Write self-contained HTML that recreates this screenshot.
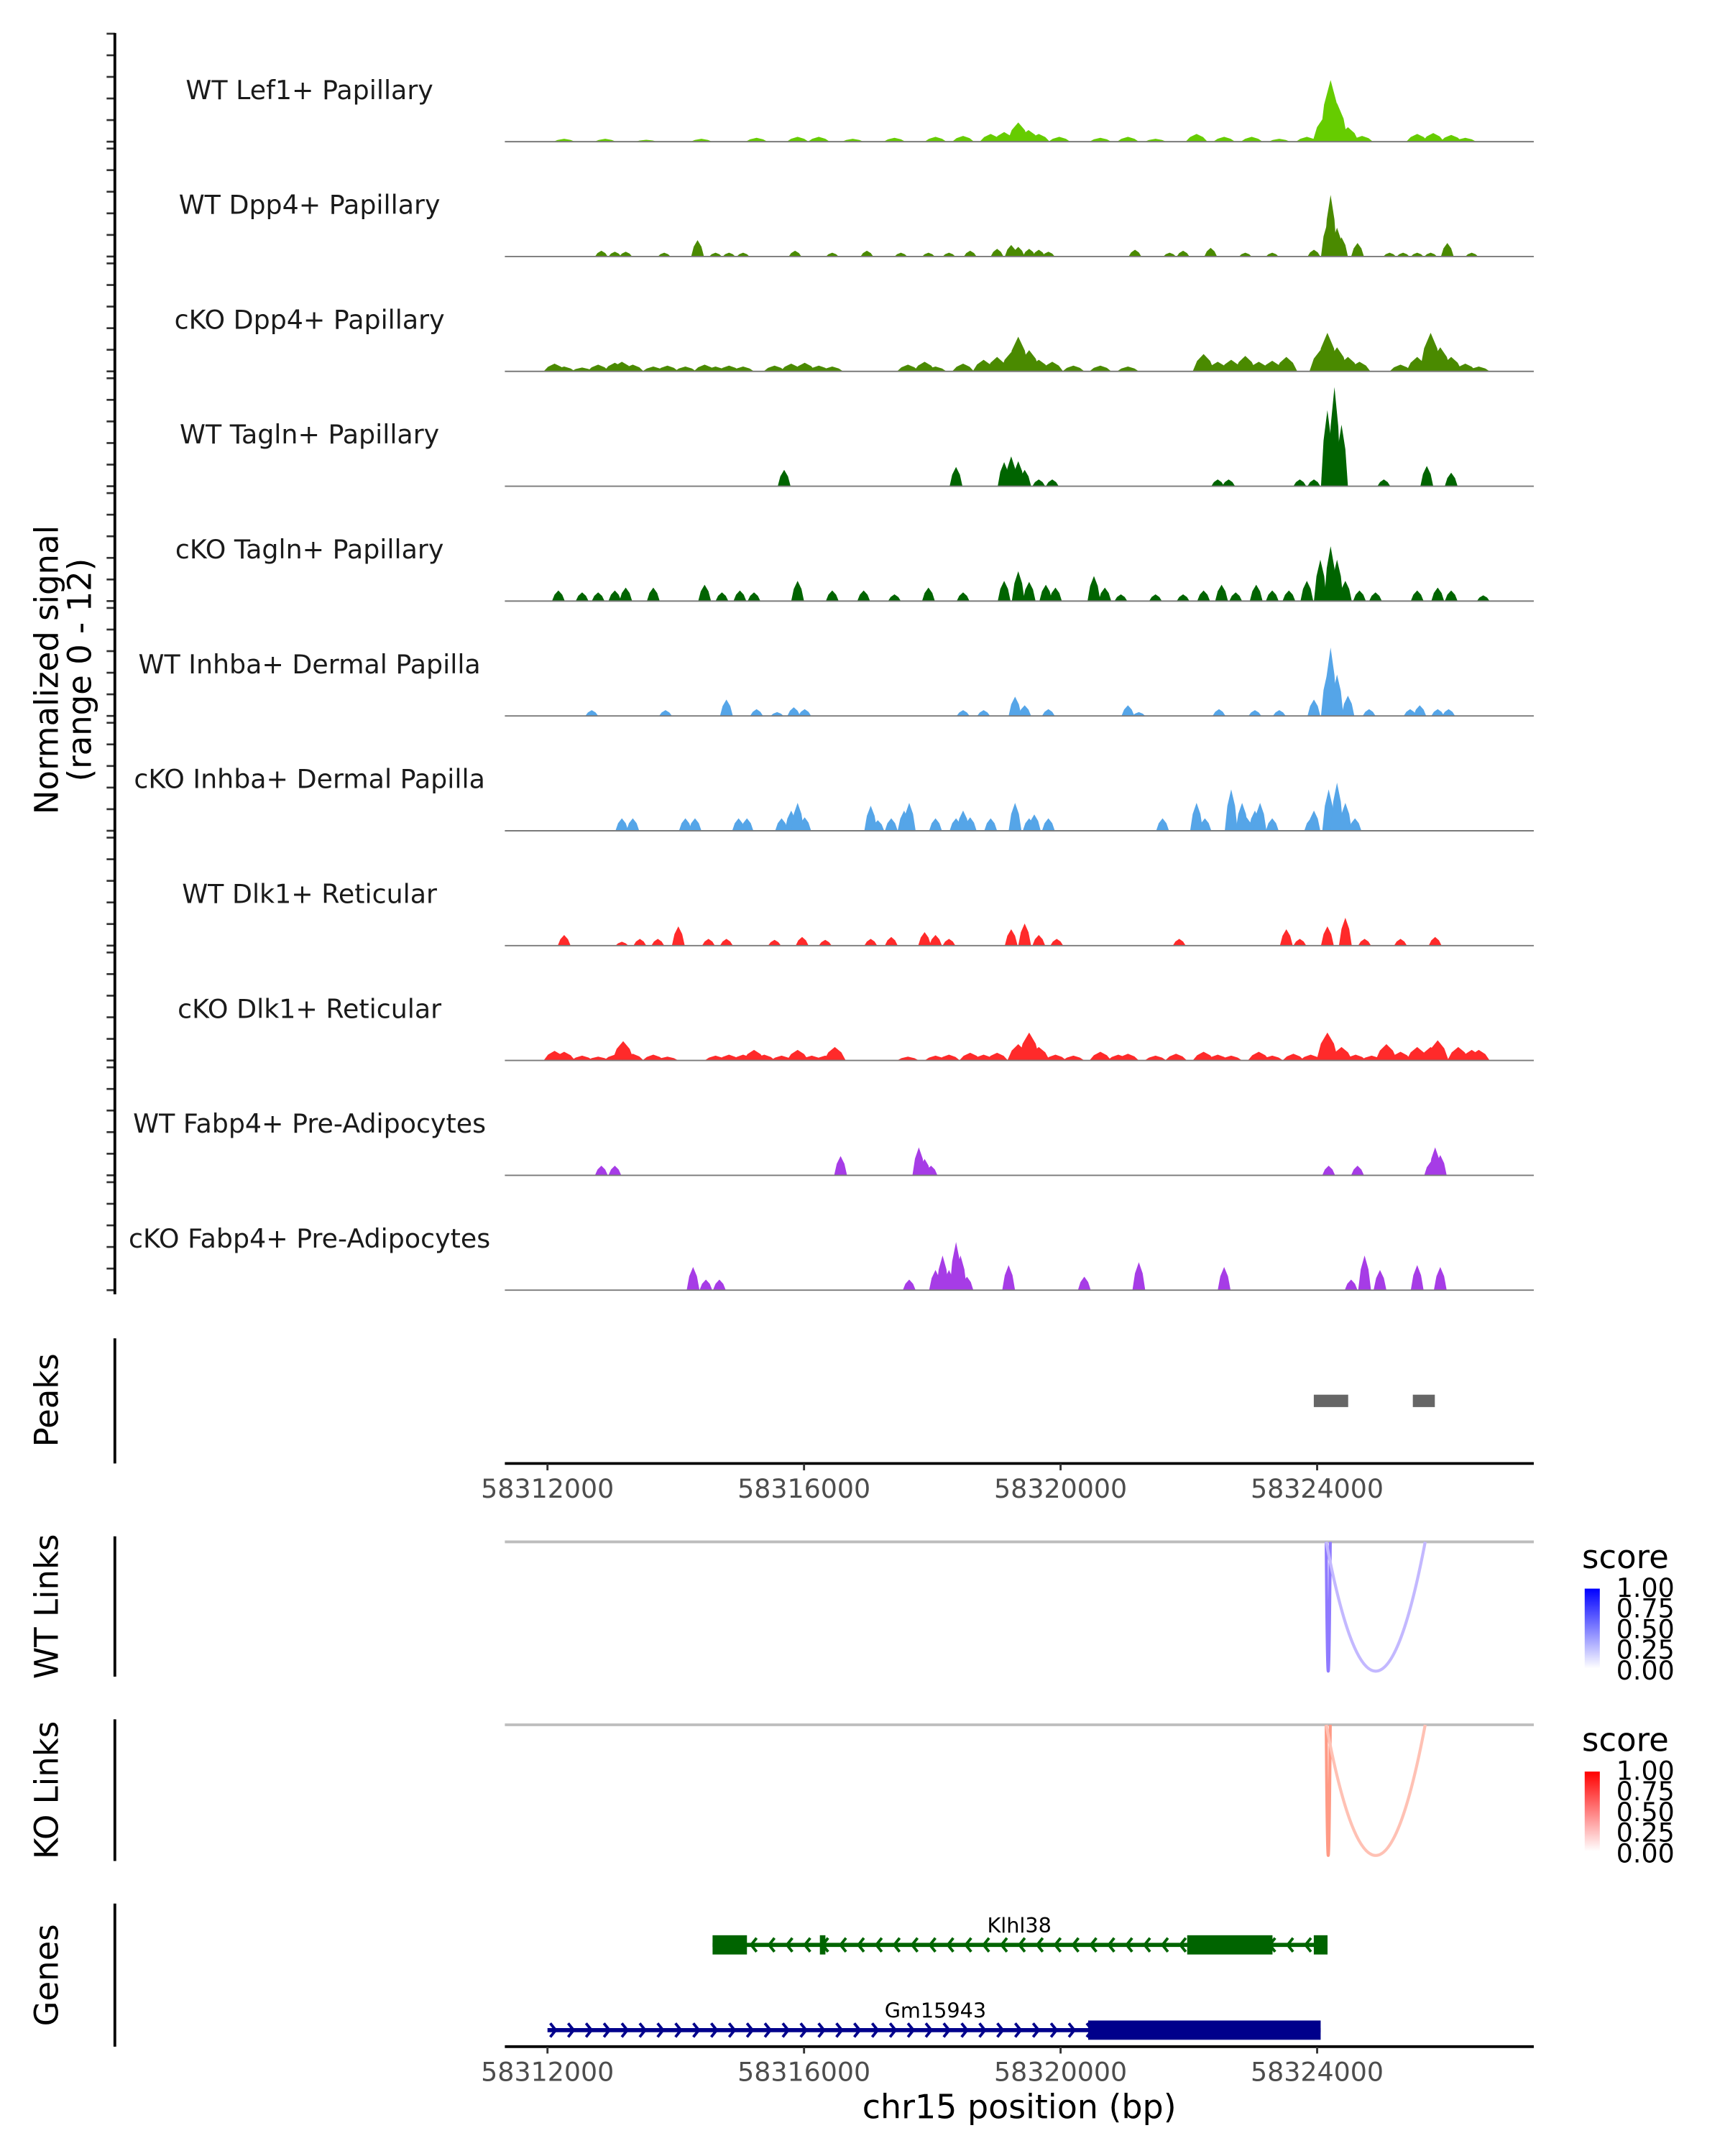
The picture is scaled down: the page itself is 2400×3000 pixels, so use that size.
<!DOCTYPE html>
<html><head><meta charset="utf-8"><style>
html,body{margin:0;padding:0;background:#fff}
svg{display:block}
text{font-family:"DejaVu Sans","Liberation Sans",sans-serif}
</style></head><body>
<svg id="chart" xmlns="http://www.w3.org/2000/svg" width="2400" height="3000" viewBox="0 0 1254 1567.5">
<defs>
<linearGradient id="gBlue" x1="0" y1="1" x2="0" y2="0"><stop offset="0" stop-color="#ffffff"/><stop offset="1" stop-color="#0000ff"/></linearGradient>
<linearGradient id="gRed" x1="0" y1="1" x2="0" y2="0"><stop offset="0" stop-color="#ffffff"/><stop offset="1" stop-color="#ff0000"/></linearGradient>
</defs>
<g id="tracks"></g>
<g id="axes"></g>
</svg>
<script>
// ---- data (positions in kb relative to region origin 58312000; signal 0-12) ----
const ORIGIN = 58312000;
const trackNames = ["WT Lef1+ Papillary","WT Dpp4+ Papillary","cKO Dpp4+ Papillary","WT Tagln+ Papillary","cKO Tagln+ Papillary","WT Inhba+ Dermal Papilla","cKO Inhba+ Dermal Papilla","WT Dlk1+ Reticular","cKO Dlk1+ Reticular","WT Fabp4+ Pre-Adipocytes","cKO Fabp4+ Pre-Adipocytes"];
const trackColors = ["#66cc00","#4a8a00","#4a8a00","#006400","#006400","#55a5e8","#55a5e8","#ff2a2a","#ff2a2a","#a63ce6","#a63ce6"];
const lef1WT = [[0.26,0.3],[0.9,0.3],[1.54,0.2],[2.4,0.3],[3.26,0.4],[3.9,0.5],[4.23,0.5],[4.76,0.3],[5.41,0.4],[6.05,0.5],[6.48,0.6],[6.91,0.8],[7.12,1.0],[7.34,2.0],[7.5,1.2],[7.66,0.8],[7.98,0.5],[8.62,0.4],[9.05,0.5],[9.48,0.3],[10.12,0.8],[10.55,0.5],[10.98,0.5],[11.41,0.3],[11.84,0.5],[12.1,2.5],[12.21,6.4],[12.31,4.0],[12.48,1.5],[12.7,0.6],[13.56,0.8],[13.81,0.9],[14.09,0.7],[14.31,0.4]];
const dpp4WT = [[0.84,0.6],[1.05,0.5],[1.22,0.5],[1.82,0.4],[2.34,1.7],[2.62,0.4],[2.83,0.4],[3.05,0.4],[3.86,0.6],[4.44,0.4],[4.98,0.6],[5.51,0.4],[5.94,0.4],[6.26,0.4],[6.59,0.6],[7.01,0.8],[7.23,1.2],[7.34,1.0],[7.51,0.8],[7.66,0.7],[7.81,0.5],[9.16,0.7],[9.7,0.4],[9.91,0.6],[10.34,0.9],[10.88,0.4],[11.3,0.4],[11.95,0.7],[12.16,3.5],[12.21,6.4],[12.31,3.0],[12.38,2.0],[12.63,1.4],[13.13,0.4],[13.34,0.4],[13.56,0.4],[13.77,0.4],[14.03,1.4],[14.41,0.4]];
const dpp4KO = [[0.11,0.8],[0.26,0.5],[0.54,0.4],[0.79,0.7],[1.05,0.9],[1.16,1.0],[1.33,0.7],[1.65,0.5],[1.87,0.6],[2.15,0.5],[2.45,0.7],[2.62,0.5],[2.83,0.6],[3.05,0.5],[3.54,0.6],[3.8,0.8],[4.01,0.9],[4.23,0.6],[4.44,0.5],[5.62,0.7],[5.88,1.0],[6.05,0.5],[6.48,0.8],[6.8,1.2],[7.01,1.5],[7.23,2.0],[7.34,3.6],[7.51,2.2],[7.66,1.2],[7.87,1.0],[8.2,0.6],[8.62,0.6],[9.05,0.5],[10.23,1.8],[10.45,1.0],[10.66,1.2],[10.88,1.6],[11.09,1.0],[11.3,1.1],[11.52,1.5],[12.05,2.2],[12.16,4.0],[12.31,2.5],[12.48,1.5],[12.66,1.0],[13.3,0.7],[13.56,1.5],[13.77,4.0],[13.92,2.5],[14.09,1.5],[14.31,0.8],[14.52,0.5]];
const taglnWT = [[3.69,1.7],[6.37,2.0],[7.12,2.5],[7.23,3.1],[7.34,2.6],[7.44,1.7],[7.66,0.7],[7.87,0.7],[10.45,0.7],[10.62,0.7],[11.73,0.7],[11.95,0.7],[12.16,7.9],[12.27,10.3],[12.38,6.4],[13.04,0.7],[13.71,2.1],[14.09,1.4]];
const taglnKO = [[0.17,1.1],[0.54,0.9],[0.79,0.9],[1.05,1.1],[1.22,1.4],[1.65,1.4],[2.45,1.7],[2.72,0.9],[3.0,1.1],[3.22,0.9],[3.9,2.1],[4.44,1.1],[4.93,1.1],[5.41,0.7],[5.94,1.4],[6.48,0.9],[7.12,2.1],[7.34,3.1],[7.51,2.0],[7.77,1.7],[7.92,1.4],[8.52,2.6],[8.69,1.4],[8.94,0.7],[9.48,0.7],[9.91,0.7],[10.23,1.1],[10.51,1.7],[10.73,0.9],[11.05,1.7],[11.3,1.1],[11.56,1.1],[11.84,2.1],[12.05,4.3],[12.21,5.7],[12.31,4.3],[12.44,2.1],[12.66,1.1],[12.91,0.9],[13.56,1.1],[13.88,1.4],[14.09,1.1],[14.59,0.6]];
const inhbaWT = [[0.69,0.6],[1.84,0.6],[2.79,1.7],[3.26,0.7],[3.58,0.4],[3.84,0.9],[4.01,0.7],[6.48,0.6],[6.8,0.6],[7.29,2.0],[7.44,1.1],[7.81,0.7],[9.05,1.1],[9.22,0.4],[10.47,0.7],[11.03,0.6],[11.41,0.6],[11.95,1.7],[12.16,4.5],[12.21,7.1],[12.31,4.3],[12.48,2.1],[12.81,0.7],[13.45,0.7],[13.6,1.1],[13.88,0.7],[14.05,0.7]];
const inhbaKO = [[1.16,1.3],[1.33,1.3],[2.15,1.3],[2.3,1.3],[2.98,1.3],[3.11,1.3],[3.65,1.3],[3.8,2.1],[3.9,2.9],[4.01,1.4],[5.04,2.6],[5.15,1.1],[5.36,1.3],[5.56,2.1],[5.64,2.9],[6.05,1.3],[6.37,1.3],[6.48,2.1],[6.59,1.4],[6.91,1.3],[7.29,2.9],[7.51,1.3],[7.59,1.7],[7.81,1.3],[9.59,1.3],[10.12,2.9],[10.25,1.3],[10.66,4.3],[10.83,2.9],[10.9,1.4],[11.03,2.1],[11.11,2.9],[11.3,1.3],[11.9,1.3],[11.95,2.1],[12.18,4.3],[12.31,5.0],[12.44,2.9],[12.59,1.3]];
const dlk1WT = [[0.26,1.1],[1.16,0.4],[1.44,0.7],[1.72,0.7],[2.04,2.0],[2.51,0.7],[2.79,0.7],[3.54,0.6],[3.97,0.9],[4.33,0.6],[5.04,0.7],[5.36,0.9],[5.88,1.4],[6.05,1.1],[6.26,0.7],[7.23,1.7],[7.44,2.3],[7.66,1.1],[7.94,0.7],[9.85,0.7],[11.52,1.7],[11.73,0.7],[12.16,2.0],[12.44,2.9],[12.74,0.7],[13.3,0.7],[13.84,0.9]];
const dlk1KO = [[0.11,1.0],[0.26,0.9],[0.54,0.5],[0.79,0.4],[1.05,0.6],[1.18,2.0],[1.33,0.7],[1.65,0.6],[1.87,0.4],[2.62,0.5],[2.83,0.6],[3.05,0.6],[3.22,1.1],[3.38,0.6],[3.65,0.5],[3.9,1.1],[4.12,0.5],[4.33,0.5],[4.48,1.4],[5.62,0.4],[6.05,0.5],[6.26,0.6],[6.59,0.8],[6.8,0.6],[7.01,0.8],[7.34,1.7],[7.51,2.9],[7.66,1.4],[7.92,0.6],[8.2,0.5],[8.62,0.9],[8.9,0.6],[9.05,0.7],[9.48,0.5],[9.8,0.7],[10.23,0.9],[10.45,0.6],[10.66,0.5],[11.09,0.9],[11.3,0.5],[11.63,0.7],[11.9,0.6],[12.16,2.9],[12.38,1.4],[12.6,0.6],[12.85,0.5],[13.08,1.7],[13.3,0.9],[13.56,1.4],[13.77,1.4],[13.88,2.1],[14.2,1.4],[14.41,1.1],[14.52,1.1]];
const fabp4WT = [[0.84,1.0],[1.05,1.0],[4.57,2.0],[5.79,2.9],[5.88,1.7],[5.98,1.0],[12.18,1.0],[12.63,1.0],[13.77,1.4],[13.84,2.9],[13.92,2.1]];
const fabp4KO = [[2.27,2.4],[2.47,1.1],[2.68,1.1],[5.64,1.1],[6.05,2.1],[6.16,3.6],[6.26,2.1],[6.37,5.0],[6.44,3.6],[6.54,1.4],[7.19,2.6],[8.37,1.4],[9.22,2.9],[10.55,2.4],[12.53,1.1],[12.74,3.6],[12.98,2.1],[13.56,2.6],[13.92,2.4]];
const trackData = [lef1WT,dpp4WT,dpp4KO,taglnWT,taglnKO,inhbaWT,inhbaKO,dlk1WT,dlk1KO,fabp4WT,fabp4KO];
const yTickValues = [0, 2, 4, 6, 8, 10];
const peakStarts = [58323948, 58325492];
const peakEnds = [58324484, 58325835];
const xTicks = [58312000, 58316000, 58320000, 58324000];
const wtLinkStart = [58324141, 58324141];
const wtLinkEnd = [58324205, 58325685];
const wtLinkScore = [0.5, 0.2];
const koLinkStart = [58324141, 58324141];
const koLinkEnd = [58324205, 58325685];
const koLinkScore = [0.5, 0.25];
const legendTicks = ["1.00","0.75","0.50","0.25","0.00"];
const klhlExonStart = [58314574, 58316247, 58321974, 58323948];
const klhlExonEnd = [58315110, 58316333, 58323304, 58324162];
const gmExonStart = [58320430];
const gmExonEnd = [58324055];
const klhlSpan = [58314574, 58324162];
const gmSpan = [58312000, 58324055];

// ---- scales ----
const NS = "http://www.w3.org/2000/svg";
const X0 = 398, PX_PER_BP = 186.5/4000, PLOT_L = 367, PLOT_R = 1115;
function xs(bp){ return X0 + (bp - ORIGIN)*PX_PER_BP; }
function xkb(kb){ return xs(ORIGIN + kb*1000); }
const TRACK0 = 103, TRACK_STEP = 83.5, PX_PER_UNIT = 7;
function ys(i, v){ return TRACK0 + i*TRACK_STEP - v*PX_PER_UNIT; }
function el(tag, attrs, parent, txt){
  const e = document.createElementNS(NS, tag);
  for (const k in attrs) e.setAttribute(k, attrs[k]);
  if (txt !== undefined) e.textContent = txt;
  parent.appendChild(e); return e;
}
const tracksG = document.getElementById('tracks');
const axesG = document.getElementById('axes');

// ---- coverage tracks ----
trackData.forEach((arr, i) => {
  const g = el('g', {}, tracksG);
  
  
  const base = ys(i, 0);
  const lab = el('text', {x:225, y:base-31, 'text-anchor':'middle', 'font-size':19, fill:'#1a1a1a'}, g, trackNames[i]);
  
  
  const wide = (i===0 || i===2 || i===8) ? 0.34 : 0.2;
  arr.forEach(p => {
    const cx = xkb(p[0]), hw = wide*1000*PX_PER_BP/2, top = ys(i, p[1]);
    const mid = ys(i, p[1]*0.6);
    const pts = [[cx-hw,base],[cx-hw*0.6,mid],[cx,top],[cx+hw*0.6,mid],[cx+hw,base]].map(q=>q[0].toFixed(2)+','+q[1].toFixed(2)).join(' ');
    const poly = el('polygon', {points:pts, fill:trackColors[i]}, g);
    
    
  });
  const bl = el('line', {x1:PLOT_L, x2:PLOT_R, y1:base, y2:base, stroke:'#7a7a7a', 'stroke-width':1}, g);
  
  
  // y ticks for this track
  yTickValues.forEach(v => {
    const ty = base - v*7.85;
    if (i > 0 && ty <= ys(i-1, 0) + 2) return;
    const tk = el('line', {x1:77.5, x2:83.5, y1:ty, y2:ty, stroke:'#333', 'stroke-width':1.4}, axesG);
    
    
  });
});

// ---- left axis of signal panel ----
const yAxis = el('line', {x1:83.5, x2:83.5, y1:24, y2:941, stroke:'#000', 'stroke-width':2}, axesG);


function vtitle(lines, x, y, name){
  const t = el('text', {transform:`translate(${x},${y}) rotate(-90)`, 'text-anchor':'middle', 'font-size':23.5, fill:'#000'}, axesG);
  
  
  lines.forEach((s, k) => { el('tspan', {x:0, dy: k===0 ? 0 : 24}, t, s); });
}
vtitle(["Normalized signal","(range 0 - 12)"], 42, 487, 'y-axis-title');

// ---- peaks panel ----
el('line', {x1:83.5, x2:83.5, y1:973, y2:1064, stroke:'#000', 'stroke-width':2}, axesG);
vtitle(["Peaks"], 42, 1018, 'peaks-title');
peakStarts.forEach((s, k) => {
  const r = el('rect', {x:xs(s), y:1014, width:xs(peakEnds[k])-xs(s), height:9, fill:'#666'}, axesG);
  
  
});
function xAxis(y, name){
  const g = el('g', {}, axesG);
  
  
  el('line', {x1:PLOT_L, x2:PLOT_R, y1:y, y2:y, stroke:'#000', 'stroke-width':2}, g);
  xTicks.forEach(v => {
    el('line', {x1:xs(v), x2:xs(v), y1:y, y2:y+5, stroke:'#333', 'stroke-width':1.5}, g);
    const t = el('text', {x:xs(v), y:y+25, 'text-anchor':'middle', 'font-size':19, fill:'#4d4d4d'}, g, String(v));
    
    
  });
}
xAxis(1064, 'peaks-x-axis');

// ---- links panels ----
function mix(c, s){ const r=Math.round(255+(c[0]-255)*s), gg=Math.round(255+(c[1]-255)*s), b=Math.round(255+(c[2]-255)*s); return `rgb(${r},${gg},${b})`; }
function linksPanel(top, bottom, starts, ends, scores, col, grad, title, name){
  el('line', {x1:83.5, x2:83.5, y1:top-4, y2:bottom+4, stroke:'#000', 'stroke-width':2}, axesG);
  vtitle([title], 42, (top+bottom)/2, name + '-title');
  el('line', {x1:PLOT_L, x2:PLOT_R, y1:top, y2:top, stroke:'#bdbdbd', 'stroke-width':2}, axesG);
  starts.forEach((s, k) => {
    const a = xs(s), b = xs(ends[k]), m = (a+b)/2, depth = bottom - top;
    const p = el('path', {d:`M${a},${top} Q${m},${top+2*depth} ${b},${top}`, fill:'none', stroke:mix(col, scores[k]*0.8+0.12), 'stroke-width':2.2}, axesG);
    
    
  });
  const lg = el('g', {}, axesG);
  
  
  el('text', {x:1150, y:top+19, 'font-size':23.5, fill:'#000'}, lg, 'score');
  el('rect', {x:1152, y:top+34, width:11, height:58, fill:`url(#${grad})`}, lg);
  legendTicks.forEach((s, k) => {
    el('text', {x:1175, y:top+40+k*15, 'font-size':19, fill:'#000'}, lg, s);
  });
}
linksPanel(1121, 1215, wtLinkStart, wtLinkEnd, wtLinkScore, [40,0,255], 'gBlue', 'WT Links', 'wt-links');
linksPanel(1254, 1349, koLinkStart, koLinkEnd, koLinkScore, [255,60,20], 'gRed', 'KO Links', 'ko-links');

// ---- genes panel ----
el('line', {x1:83.5, x2:83.5, y1:1384, y2:1488, stroke:'#000', 'stroke-width':2}, axesG);
vtitle(["Genes"], 42, 1436, 'genes-title');
function gene(span, es, ee, y, col, dir, label, lx){
  const g = el('g', {}, axesG);
  
  
  el('line', {x1:xs(span[0]), x2:xs(span[1]), y1:y, y2:y, stroke:col, 'stroke-width':3}, g);
  for (let x = xs(span[0]) + 2; x < xs(span[1]) - 4; x += 13) {
    const d = dir > 0 ? `M${x},${y-5} L${x+4},${y} L${x},${y+5}` : `M${x+4},${y-5} L${x},${y} L${x+4},${y+5}`;
    el('path', {d:d, fill:'none', stroke:col, 'stroke-width':2}, g);
  }
  es.forEach((s, k) => { el('rect', {x:xs(s), y:y-7, width:xs(ee[k])-xs(s), height:14, fill:col}, g); });
  el('text', {x:lx, y:y-9, 'text-anchor':'middle', 'font-size':15, fill:'#000'}, g, label);
}
gene(klhlSpan, klhlExonStart, klhlExonEnd, 1414, '#006400', -1, 'Klhl38', 741);
gene(gmSpan, gmExonStart, gmExonEnd, 1476, '#00008b', 1, 'Gm15943', 680);
xAxis(1488, 'genes-x-axis');
const xt = el('text', {x:741, y:1540, 'text-anchor':'middle', 'font-size':24, fill:'#000'}, axesG, 'chr15 position (bp)');


</script>
</body></html>
